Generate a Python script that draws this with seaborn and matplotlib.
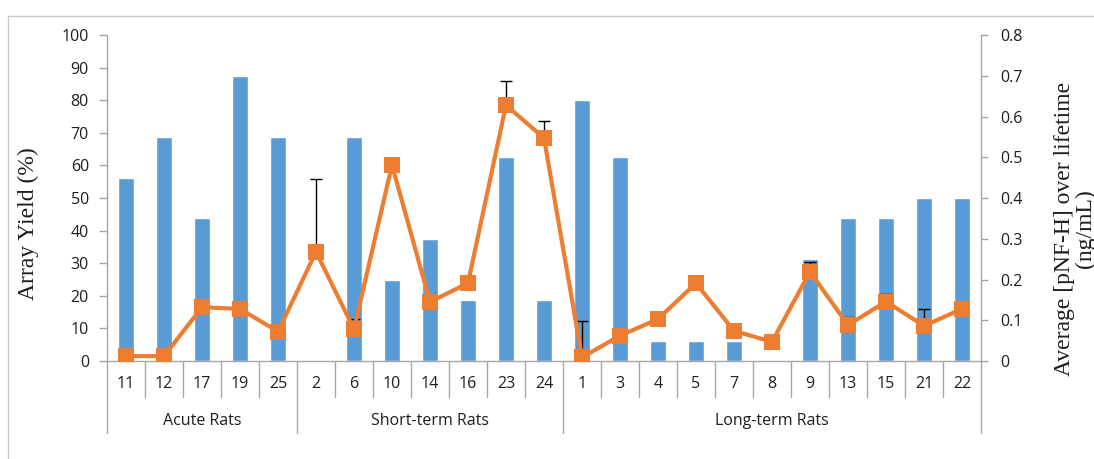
import numpy as np
import pandas as pd
import matplotlib
matplotlib.use("Agg")
import matplotlib.pyplot as plt
import matplotlib.transforms as mtransforms
from matplotlib.lines import Line2D
from matplotlib.ticker import FuncFormatter, MultipleLocator
import seaborn as sns

# Rat IDs in plotting order, grouped by study arm
rats = ["11", "12", "17", "19", "25",
        "2", "6", "10", "14", "16", "23", "24",
        "1", "3", "4", "5", "7", "8", "9", "13", "15", "21", "22"]
group_names = ["Acute Rats", "Short-term Rats", "Long-term Rats"]
group_sizes = [5, 7, 11]

# Array yield (%) per rat
array_yield = [56.25, 68.75, 43.75, 87.5, 68.75,
               0.0, 68.75, 25.0, 37.5, 18.75, 62.5, 18.75,
               80.0, 62.5, 6.25, 6.25, 6.25, 0.0, 31.25, 43.75, 43.75, 50.0, 50.0]

# Average pNF-H over lifetime (ng/mL) and its upper error
pnfh = [0.012, 0.012, 0.132, 0.128, 0.072,
        0.268, 0.078, 0.481, 0.145, 0.191, 0.628, 0.547,
        0.009, 0.062, 0.103, 0.191, 0.074, 0.047, 0.219, 0.088, 0.146, 0.086, 0.128]
pnfh_err = [0.0, 0.0, 0.0, 0.0, 0.0,
            0.178, 0.025, 0.0, 0.0, 0.0, 0.058, 0.043,
            0.088, 0.0, 0.0, 0.0, 0.0, 0.0, 0.023, 0.021, 0.018, 0.042, 0.0]

BAR_COLOR = "#5B9BD5"
LINE_COLOR = "#ED7D31"
AXIS_GRAY = "#a6a6a6"
TEXT_COLOR = "#1e1e1e"

sns.set_style("white")
plt.rcParams["font.family"] = ["Open Sans", "DejaVu Sans"]

df = pd.DataFrame({"rat": rats, "yield": array_yield,
                   "pnfh": pnfh, "err": pnfh_err})

fig = plt.figure(figsize=(10.94, 4.59), dpi=100)
ax = fig.add_axes([0.0978, 0.2135, 0.7989, 0.7102])

# Bars: array yield on the left axis
sns.barplot(data=df, x="rat", y="yield", order=rats, color=BAR_COLOR,
            saturation=1, width=0.4, errorbar=None, ax=ax)

# Line: pNF-H on the right axis, with upper-only error bars
ax2 = ax.twinx()
pos = np.arange(len(rats))
err = np.asarray(pnfh_err)
val = np.asarray(pnfh)
mask = err > 0
ax2.vlines(pos[mask], val[mask], val[mask] + err[mask],
           color="black", lw=1.0, zorder=1)
ax2.plot(pos[mask], val[mask] + err[mask], linestyle="none", marker="_",
         markersize=9, markeredgewidth=1.0, color="black", zorder=1)
sns.pointplot(data=df, x="rat", y="pnfh", order=rats, color=LINE_COLOR,
              markers="s", linestyles="-", errorbar=None, ax=ax2,
              markersize=11, linewidth=3.0, markeredgewidth=0, zorder=3)

n = len(rats)
for a in (ax, ax2):
    a.set_xlim(-0.5, n - 0.5)
    a.set_xlabel("")
    a.set_ylabel("")
    for s in a.spines.values():
        s.set_visible(False)

ax.set_ylim(0, 100)
ax.yaxis.set_major_locator(MultipleLocator(10))
ax2.set_ylim(0, 0.8)
ax2.yaxis.set_major_locator(MultipleLocator(0.1))
ax2.yaxis.set_major_formatter(
    FuncFormatter(lambda v, _: "0" if abs(v) < 1e-9 else f"{v:.1f}"))

ax.spines["left"].set_visible(True)
ax.spines["bottom"].set_visible(True)
ax2.spines["right"].set_visible(True)
for s in (ax.spines["left"], ax.spines["bottom"], ax2.spines["right"]):
    s.set_color(AXIS_GRAY)
    s.set_linewidth(1.0)

ax.tick_params(axis="y", direction="out", length=6, width=1,
               color=AXIS_GRAY, labelsize=11.5, labelcolor=TEXT_COLOR, pad=7, left=True)
ax2.tick_params(axis="y", direction="out", length=5, width=1,
                color=AXIS_GRAY, labelsize=11.5, labelcolor=TEXT_COLOR, pad=9, right=True)
ax.set_xticks(pos)
ax.set_xticklabels(rats)
ax.tick_params(axis="x", length=0, labelsize=11.5, labelcolor=TEXT_COLOR, pad=11)
ax2.tick_params(axis="x", length=0)

# Category separators and group brackets below the axis
trans = mtransforms.blended_transform_factory(ax.transData, ax.transAxes)
bounds = np.cumsum([0] + group_sizes)
for b in range(n + 1):
    depth = -0.221 if b in bounds else -0.110
    ax.add_line(Line2D([b - 0.5, b - 0.5], [0, depth], transform=trans,
                       color=AXIS_GRAY, lw=1.0, clip_on=False))
start = 0
for name, size in zip(group_names, group_sizes):
    ax.text(start + (size - 1) / 2, -0.184, name, transform=trans,
            ha="center", va="center", fontsize=11.5, color=TEXT_COLOR)
    start += size

# Axis titles
title_kw = dict(rotation=90, ha="center", va="center", fontsize=17,
                color=TEXT_COLOR, family="Liberation Serif")
fig.text(28 / 1094, 1 - 224 / 459, "Array Yield (%)", **title_kw)
fig.text(1075 / 1094, 1 - 229 / 459, "Average [pNF-H] over lifetime\n(ng/mL)",
         multialignment="center", linespacing=1.0, **title_kw)

# Chart-area frame
frame_kw = dict(transform=fig.transFigure, color="#c8c8c8", lw=1.0)
fig.add_artist(Line2D([8 / 1094, 1], [1 - 16 / 459, 1 - 16 / 459], **frame_kw))
fig.add_artist(Line2D([8 / 1094, 8 / 1094], [1 - 16 / 459, 0], **frame_kw))

fig.savefig("out.png", dpi=100)
